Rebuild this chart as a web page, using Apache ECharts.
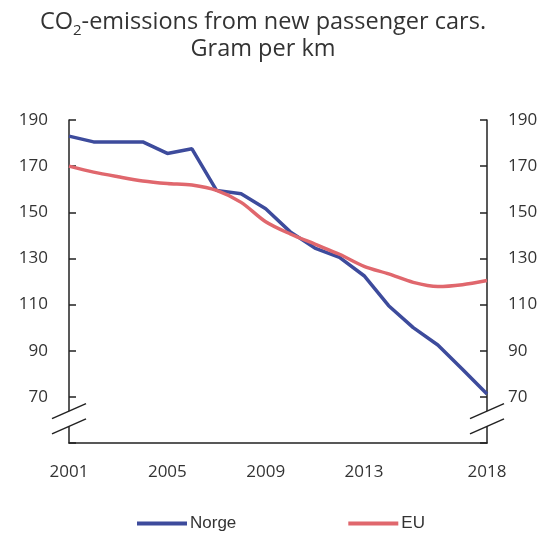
<!DOCTYPE html>
<html>
<head>
<meta charset="utf-8">
<script src="https://cdn.jsdelivr.net/npm/echarts@6/dist/echarts.min.js"></script>
<style>html,body{margin:0;padding:0;background:#fff}#c{width:549px;height:541px}</style>
</head>
<body>
<div id="c"></div>
<script>
var years = ['2001','2002','2003','2004','2005','2006','2007','2008','2009','2010','2011','2012','2013','2014','2015','2016','2017','2018'];
var norge = [183, 180.5, 180.5, 180.5, 175.5, 177.5, 159.5, 158, 151.5, 141.5, 134.5, 130.5, 122.5, 109.5, 100, 92.5, 82, 71.2];
var eu = [170, 167.4, 165.4, 163.6, 162.5, 161.8, 159.5, 154.3, 145.9, 140.6, 136.2, 131.8, 126.6, 123.3, 119.6, 117.8, 118.6, 120.4];
var shownYearLabels = ['2001','2005','2009','2013','2018'];
var yTickLabels = [70, 90, 110, 130, 150, 170, 190];

var chart = echarts.init(document.getElementById('c'));
var axisColor = '#222';
var labelFont = {fontFamily: 'Open Sans', fontSize: 17, color: '#333'};
function yAxisDef(pos) {
  return {
    type: 'value', position: pos, min: 50, max: 190, interval: 20,
    axisLine: {show: true, lineStyle: {color: axisColor, width: 1.5}},
    axisTick: {show: true, inside: true, length: 7, lineStyle: {color: axisColor, width: 1.5}},
    splitLine: {show: false},
    axisLabel: Object.assign({margin: 21, formatter: function (v) { return yTickLabels.indexOf(v) >= 0 ? String(v) : ''; }}, labelFont)
  };
}
chart.setOption({
  animation: false,
  title: {
    left: 263, top: 4, textAlign: 'center', padding: [5, 0, 5, 0],
    text: '{a|CO}{s|2}{a|-emissions from new passenger cars.}\n{a|Gram per km}',
    textStyle: {
      fontWeight: 'normal',
      rich: {
        a: {fontFamily: 'Open Sans', fontSize: 23.5, fontWeight: 'normal', color: '#333', lineHeight: 27},
        s: {fontFamily: 'Open Sans', fontSize: 15, fontWeight: 'normal', color: '#333', lineHeight: 27, verticalAlign: 'bottom', padding: [0, 0, -2, 0]}
      }
    }
  },
  grid: {left: 69, right: 62, top: 120, bottom: 98, containLabel: false},
  legend: {
    bottom: 4, left: 132, itemGap: 112, itemWidth: 50, itemHeight: 4,
    icon: 'rect',
    textStyle: {fontFamily: 'Liberation Sans', fontSize: 17, color: '#333', padding: [0, 0, 0, -2]},
    data: ['Norge', 'EU']
  },
  xAxis: {
    type: 'category', data: years, boundaryGap: false,
    axisLine: {lineStyle: {color: axisColor, width: 1.5}},
    axisTick: {show: false},
    axisLabel: Object.assign({margin: 21, interval: function (i, v) { return shownYearLabels.indexOf(v) >= 0; }}, labelFont)
  },
  yAxis: [yAxisDef('left'), yAxisDef('right')],
  series: [
    {name: 'Norge', type: 'line', data: norge, symbol: 'none', smooth: false,
     lineStyle: {color: '#3d4b9c', width: 3.5}, itemStyle: {color: '#3d4b9c'}},
    {name: 'EU', type: 'line', data: eu, symbol: 'none', smooth: 0.3,
     lineStyle: {color: '#e0676d', width: 3.5}, itemStyle: {color: '#e0676d'}}
  ]
});

// axis break marks
function breakMarks() {
  var els = [];
  [years[0], years[years.length - 1]].forEach(function (yr) {
    var p1 = chart.convertToPixel({xAxisIndex: 0, yAxisIndex: 0}, [yr, 63.8]);
    var p2 = chart.convertToPixel({xAxisIndex: 0, yAxisIndex: 0}, [yr, 57.2]);
    var dx = 17, dy = 7.5;
    els.push({type: 'polygon', z: 100, shape: {points: [
      [p1[0] - dx, p1[1] + dy], [p1[0] + dx, p1[1] - dy], [p2[0] + dx, p2[1] - dy], [p2[0] - dx, p2[1] + dy]
    ]}, style: {fill: '#fff'}});
    [p1, p2].forEach(function (p) {
      els.push({type: 'line', z: 101, shape: {x1: p[0] - dx, y1: p[1] + dy, x2: p[0] + dx, y2: p[1] - dy},
        style: {stroke: axisColor, lineWidth: 1.5}});
    });
  });
  chart.setOption({graphic: els});
}
breakMarks();
</script>
</body>
</html>
